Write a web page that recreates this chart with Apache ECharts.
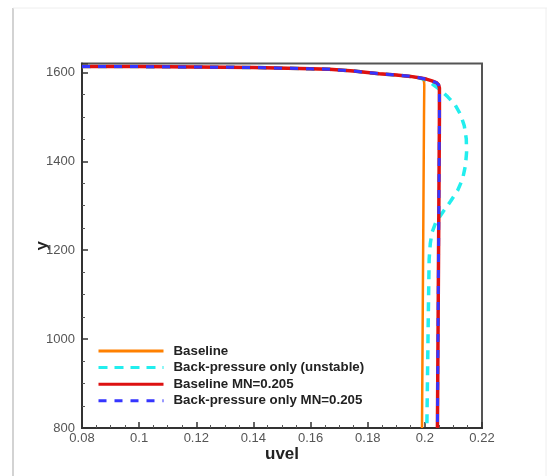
<!DOCTYPE html>
<html>
<head>
<meta charset="utf-8">
<script src="https://cdn.jsdelivr.net/npm/echarts@6/dist/echarts.min.js"></script>
<style>html,body{margin:0;padding:0;background:#fff}#c{width:547px;height:476px}</style>
</head>
<body>
<div id="c"></div>
<script>
// ---- data ----
var seriesNames = ['Baseline', 'Back-pressure only (unstable)', 'Baseline MN=0.205', 'Back-pressure only MN=0.205'];
var topCommon = [[0.08,1613],[0.10,1613],[0.12,1612],[0.14,1611],[0.16,1608],[0.1666,1607],[0.175,1603],[0.184,1597],[0.19,1594],[0.195,1591],[0.198,1588]];
var baselineTail = [[0.1992,1585],[0.1997,1580],[0.1998,1572],[0.1997,1500],[0.1995,1300],[0.1992,1000],[0.199,800]];
var bpUnstableTail = [[0.2,1584],[0.2015,1580],[0.203,1572],[0.2055,1560],[0.208,1545],[0.2105,1528],[0.2125,1505],[0.2138,1480],[0.2145,1450],[0.2146,1420],[0.2142,1390],[0.2132,1360],[0.2115,1335],[0.209,1310],[0.2062,1285],[0.2038,1262],[0.2025,1240],[0.2019,1215],[0.2015,1180],[0.2012,1050],[0.2009,900],[0.2007,800]];
var baselineMNTail = [[0.2005,1585],[0.2025,1581],[0.204,1577],[0.2048,1572],[0.2051,1565],[0.2051,1500],[0.2049,1300],[0.2047,1100],[0.2044,800]];
var bpMNTail = [[0.2005,1585],[0.2025,1581],[0.204,1577],[0.2048,1572],[0.2051,1565],[0.2051,1500],[0.2049,1300],[0.2047,1100],[0.2044,800]];
var xTicks = {min:0.08, max:0.22, interval:0.02};
var yTicks = {min:800, max:1620, interval:200};

var baseline = topCommon.concat(baselineTail);
var bpUnstable = topCommon.concat(bpUnstableTail);
var baselineMN = topCommon.concat(baselineMNTail);
var bpMN = topCommon.concat(bpMNTail);

var chart = echarts.init(document.getElementById('c'), null, {renderer:'canvas'});
var font = 'Liberation Sans, Arial, Helvetica, sans-serif';
function mk(name, data, color, width, dash) {
  return {
    name: name, type: 'line', data: data, symbol: 'none', showSymbol: false,
    smooth: false, animation: false,
    lineStyle: {color: color, width: width, type: dash ? dash : 'solid', cap: 'butt'},
    itemStyle: {color: color}
  };
}
chart.setOption({
  animation: false,
  backgroundColor: '#fff',
  graphic: [
    {type:'line', shape:{x1:13, y1:8, x2:13, y2:476}, style:{stroke:'#c4c4c4', lineWidth:1.5}},
    {type:'line', shape:{x1:13, y1:8, x2:547, y2:8}, style:{stroke:'#eeeeee', lineWidth:1}},
    {type:'line', shape:{x1:546, y1:8, x2:546, y2:476}, style:{stroke:'#eeeeee', lineWidth:1}}
  ],
  grid: {left: 82, right: 65, top: 63.5, bottom: 48, show: true, borderColor: '#555', borderWidth: 2},
  legend: {
    orient: 'vertical', left: 97, top: 344.5, padding: 0, itemWidth: 65, itemHeight: 12, itemGap: 3.6,
    data: seriesNames,
    itemStyle: {opacity: 0},
    lineStyle: {width: 3},
    textStyle: {fontFamily: font, fontWeight: 'bold', fontSize: 13.3, lineHeight: 12, color: '#222', padding:[0,0,0,5]}
  },
  xAxis: {
    type: 'value', min: xTicks.min, max: xTicks.max, interval: xTicks.interval,
    name: 'uvel', nameLocation: 'middle', nameGap: 18, nameMoveOverlap: false,
    nameTextStyle: {fontFamily: font, fontWeight: 'bold', fontSize: 17, color: '#222'},
    axisLine: {show: true, lineStyle: {color: '#333', width: 2}},
    axisTick: {show: true, inside: true, length: 6, lineStyle: {color: '#333', width: 1.5}},
    minorTick: {show: true, splitNumber: 4, length: 3, lineStyle: {color: '#555', width: 1}},
    splitLine: {show: false},
    axisLabel: {fontFamily: font, fontSize: 13, color: '#555', margin: 4}
  },
  yAxis: {
    type: 'value', min: yTicks.min, max: yTicks.max, interval: yTicks.interval,
    name: 'y', nameLocation: 'middle', nameGap: 31, nameRotate: 90, nameMoveOverlap: false,
    nameTextStyle: {fontFamily: font, fontWeight: 'bold', fontSize: 17, color: '#222'},
    axisLine: {show: true, lineStyle: {color: '#333', width: 2}},
    axisTick: {show: true, inside: true, length: 6, lineStyle: {color: '#333', width: 1.5}},
    minorTick: {show: true, splitNumber: 4, length: 3, lineStyle: {color: '#555', width: 1}},
    splitLine: {show: false},
    axisLabel: {fontFamily: font, fontSize: 13, color: '#555', margin: 7,
      formatter: function (v) { return (v % 200 === 0) ? String(v) : ''; }}
  },
  series: [
    mk(seriesNames[0], baseline, '#ff8000', 2.5),
    mk(seriesNames[1], bpUnstable, '#22eeee', 3.5, [9, 7]),
    mk(seriesNames[2], baselineMN, '#dd1111', 3.5),
    mk(seriesNames[3], bpMN, '#3535ff', 3, [8, 8])
  ]
});
</script>
</body>
</html>
